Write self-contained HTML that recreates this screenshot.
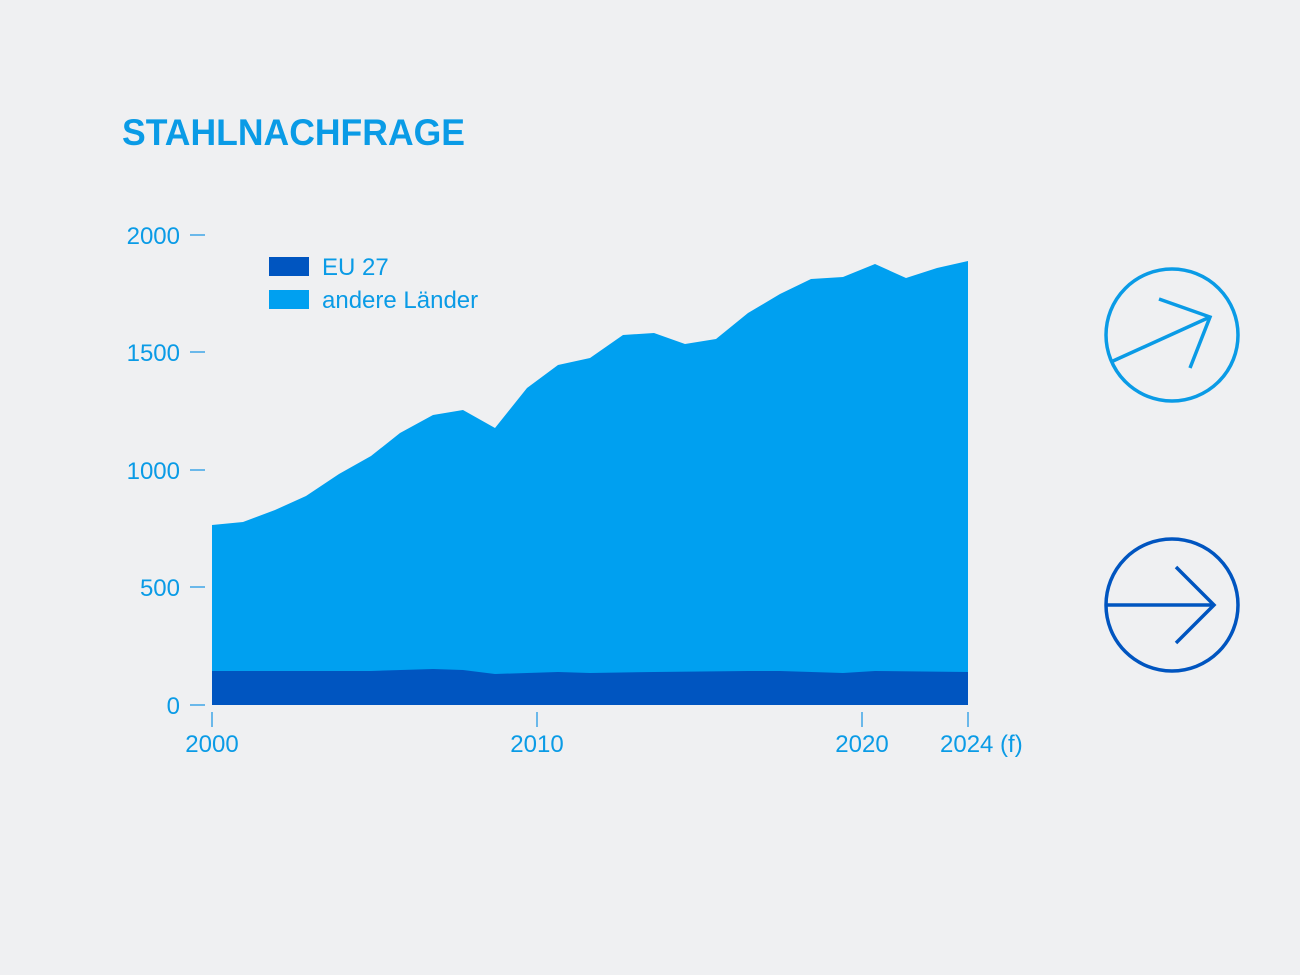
<!DOCTYPE html>
<html><head><meta charset="utf-8"><style>
html,body{margin:0;padding:0;background:#eff0f2;}
body{width:1300px;height:975px;overflow:hidden;font-family:"Liberation Sans",sans-serif;}
</style></head><body>
<svg width="1300" height="975" xmlns="http://www.w3.org/2000/svg" style="position:absolute;left:0;top:0">
<rect width="1300" height="975" fill="#eff0f2"/>
<text x="122" y="145" font-size="37" font-weight="bold" fill="#0a9be6" font-family="Liberation Sans, sans-serif" textLength="343" lengthAdjust="spacingAndGlyphs">STAHLNACHFRAGE</text>
<g font-family="Liberation Sans, sans-serif" font-size="24" fill="#0a9be6">
<text x="180" y="244" text-anchor="end">2000</text>
<text x="180" y="361" text-anchor="end">1500</text>
<text x="180" y="479" text-anchor="end">1000</text>
<text x="180" y="596" text-anchor="end">500</text>
<text x="180" y="714" text-anchor="end">0</text>
<text x="212" y="752" text-anchor="middle">2000</text>
<text x="537" y="752" text-anchor="middle">2010</text>
<text x="862" y="752" text-anchor="middle">2020</text>
<text x="940" y="752">2024 (f)</text>
<text x="322" y="275">EU 27</text>
<text x="322" y="308">andere Länder</text>
</g>
<g stroke="#6ab8ea" stroke-width="2">
<line x1="190" y1="235" x2="205" y2="235"/>
<line x1="190" y1="352" x2="205" y2="352"/>
<line x1="190" y1="470" x2="205" y2="470"/>
<line x1="190" y1="587" x2="205" y2="587"/>
<line x1="190" y1="705" x2="205" y2="705"/>
<line x1="212" y1="712" x2="212" y2="727"/>
<line x1="537" y1="712" x2="537" y2="727"/>
<line x1="862" y1="712" x2="862" y2="727"/>
<line x1="968" y1="712" x2="968" y2="727"/>
</g>
<polygon fill="#00a0f0" points="212,705 212,525 243,522 275,510 306,496 339,474 371,456 400,433 433,415 463,410 495,428 527,388 558,365 590,358 623,335 654,333 685,344 716,339 748,313 780,294 811,279 843,277 875,264 906,278 937,268 968,261 968,705"/>
<polygon fill="#0055c0" points="212,705 212,671 306,671 371,671 433,669 463,670 495,674 558,672 590,673 654,672 748,671 780,671 843,673 875,671 968,672 968,705"/>
<rect x="269" y="257" width="40" height="19" fill="#0055c0"/>
<rect x="269" y="290" width="40" height="19" fill="#00a0f0"/>
<g fill="none" stroke="#0a9be6" stroke-width="3.5">
<circle cx="1172" cy="335" r="66"/>
<line x1="1113" y1="361" x2="1210" y2="317"/>
<polyline points="1159,299 1210,317 1190,368"/>
</g>
<g fill="none" stroke="#0055c0" stroke-width="3.5">
<circle cx="1172" cy="605" r="66"/>
<line x1="1106" y1="605" x2="1214" y2="605"/>
<polyline points="1176,567 1214,605 1176,643"/>
</g>
</svg>
</body></html>
